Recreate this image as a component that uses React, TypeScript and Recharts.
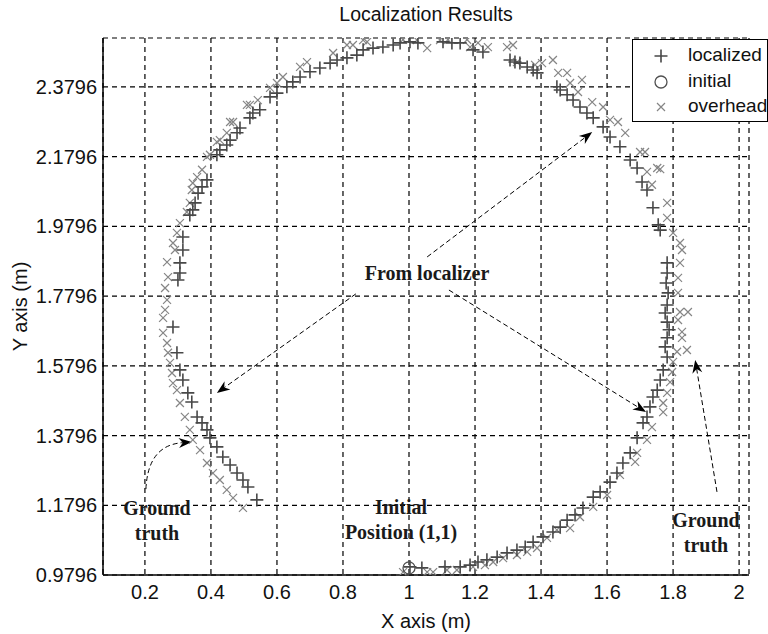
import {
  ScatterChart,
  Scatter,
  XAxis,
  YAxis,
  CartesianGrid,
  ReferenceLine,
  Legend,
} from "recharts";

const SANS = '"Liberation Sans", Arial, sans-serif';
const SERIF = '"Liberation Serif", "Times New Roman", serif';

const xTicks = [0.2, 0.4, 0.6, 0.8, 1, 1.2, 1.4, 1.6, 1.8, 2];
const yTicks = [0.9796, 1.1796, 1.3796, 1.5796, 1.7796, 1.9796, 2.1796, 2.3796];
const xDomain: [number, number] = [0.073, 2.03];
const yDomain: [number, number] = [0.9796, 2.52];

// localizer output, in the order the robot drove
const localized: [number, number][] = [
  [1.003, 1.003], [1.039, 1.0], [1.109, 1.003], [1.155, 1.003], [1.185, 1.008],
  [1.209, 1.017], [1.236, 1.023], [1.267, 1.031], [1.297, 1.043], [1.327, 1.051],
  [1.352, 1.06], [1.376, 1.074], [1.406, 1.089], [1.436, 1.103], [1.458, 1.117],
  [1.479, 1.137], [1.503, 1.152], [1.527, 1.172], [1.558, 1.203], [1.579, 1.218],
  [1.609, 1.246], [1.63, 1.272], [1.648, 1.301], [1.67, 1.33], [1.691, 1.373],
  [1.709, 1.416], [1.721, 1.433], [1.73, 1.462], [1.739, 1.49], [1.752, 1.51],
  [1.761, 1.539], [1.77, 1.568], [1.782, 1.605], [1.776, 1.634], [1.782, 1.66],
  [1.788, 1.683], [1.782, 1.705], [1.776, 1.731], [1.782, 1.754], [1.785, 1.789],
  [1.779, 1.817], [1.782, 1.846], [1.782, 1.875], [1.761, 1.969], [1.755, 1.984],
  [1.739, 2.033], [1.721, 2.084], [1.706, 2.107], [1.691, 2.147], [1.67, 2.17],
  [1.639, 2.208], [1.609, 2.236], [1.588, 2.265], [1.558, 2.291], [1.539, 2.305],
  [1.518, 2.322], [1.497, 2.342], [1.479, 2.357], [1.458, 2.371], [1.448, 2.38],
  [1.388, 2.42], [1.376, 2.428], [1.358, 2.437], [1.336, 2.448], [1.321, 2.451],
  [1.306, 2.457], [1.224, 2.48], [1.194, 2.486], [1.155, 2.506], [1.13, 2.506],
  [1.103, 2.509], [1.027, 2.506], [1.003, 2.509], [0.973, 2.506], [0.952, 2.5],
  [0.921, 2.494], [0.891, 2.491], [0.861, 2.486], [0.842, 2.471], [0.812, 2.463],
  [0.782, 2.457], [0.761, 2.448], [0.73, 2.434], [0.7, 2.423], [0.67, 2.408],
  [0.648, 2.394], [0.63, 2.38], [0.6, 2.362], [0.579, 2.351], [0.548, 2.314],
  [0.527, 2.305], [0.518, 2.291], [0.488, 2.262], [0.479, 2.248], [0.458, 2.227],
  [0.448, 2.213], [0.427, 2.199], [0.418, 2.185], [0.388, 2.113], [0.373, 2.093],
  [0.361, 2.075], [0.352, 2.047], [0.345, 2.027], [0.336, 2.012], [0.315, 1.949],
  [0.315, 1.912], [0.306, 1.875], [0.306, 1.846], [0.3, 1.826], [0.285, 1.691],
  [0.297, 1.617], [0.306, 1.568], [0.315, 1.539], [0.33, 1.502], [0.342, 1.476],
  [0.358, 1.433], [0.373, 1.416], [0.388, 1.396], [0.397, 1.373], [0.418, 1.347],
  [0.436, 1.318], [0.458, 1.295], [0.479, 1.272], [0.497, 1.252], [0.512, 1.232],
  [0.539, 1.195],
];

// overhead camera (ground truth)
const overhead: [number, number][] = [
  [0.982, 0.988], [1.055, 0.988], [1.073, 0.988], [1.115, 0.994], [1.145, 0.994],
  [1.194, 1.003], [1.23, 1.008], [1.255, 1.017], [1.285, 1.028], [1.327, 1.037],
  [1.358, 1.046], [1.388, 1.057], [1.418, 1.086], [1.448, 1.109], [1.488, 1.114],
  [1.518, 1.146], [1.558, 1.175], [1.6, 1.209], [1.639, 1.267], [1.685, 1.304],
  [1.691, 1.33], [1.721, 1.367], [1.736, 1.404], [1.77, 1.447], [1.77, 1.473],
  [1.782, 1.502], [1.791, 1.533], [1.797, 1.562], [1.8, 1.591], [1.812, 1.62],
  [1.842, 1.625], [1.827, 1.66], [1.827, 1.677], [1.815, 1.711], [1.821, 1.734],
  [1.845, 1.734], [1.815, 1.789], [1.815, 1.832], [1.821, 1.875], [1.827, 1.912],
  [1.821, 1.932], [1.8, 1.961], [1.782, 2.004], [1.782, 2.047], [1.736, 2.099],
  [1.761, 2.144], [1.752, 2.147], [1.721, 2.136], [1.715, 2.193], [1.7, 2.193],
  [1.655, 2.248], [1.633, 2.279], [1.609, 2.285], [1.588, 2.322], [1.555, 2.336],
  [1.512, 2.365], [1.524, 2.4], [1.488, 2.391], [1.479, 2.42], [1.452, 2.42],
  [1.436, 2.457], [1.403, 2.448], [1.382, 2.443], [1.327, 2.451], [1.315, 2.5],
  [1.297, 2.494], [1.239, 2.494], [1.209, 2.506], [1.185, 2.494], [1.176, 2.515],
  [1.118, 2.515], [1.094, 2.514], [1.055, 2.491], [1.024, 2.514], [0.982, 2.515],
  [0.873, 2.509], [0.861, 2.514], [0.83, 2.5], [0.812, 2.5], [0.77, 2.477],
  [0.691, 2.451], [0.67, 2.437], [0.618, 2.408], [0.6, 2.391], [0.579, 2.377],
  [0.542, 2.342], [0.518, 2.328], [0.509, 2.328], [0.467, 2.279], [0.458, 2.279],
  [0.448, 2.248], [0.427, 2.227], [0.418, 2.222], [0.397, 2.185], [0.388, 2.179],
  [0.373, 2.142], [0.358, 2.121], [0.345, 2.104], [0.342, 2.084], [0.336, 2.047],
  [0.327, 2.021], [0.306, 1.989], [0.297, 1.961], [0.285, 1.932], [0.291, 1.912],
  [0.267, 1.877], [0.27, 1.834], [0.261, 1.803], [0.267, 1.769], [0.261, 1.74],
  [0.255, 1.717], [0.255, 1.674], [0.267, 1.645], [0.27, 1.617], [0.276, 1.588],
  [0.282, 1.559], [0.285, 1.53], [0.297, 1.51], [0.306, 1.473], [0.321, 1.433],
  [0.336, 1.396], [0.345, 1.367], [0.367, 1.338], [0.388, 1.301], [0.406, 1.272],
  [0.427, 1.252], [0.448, 1.224], [0.467, 1.201], [0.497, 1.172],
];

const initial: [number, number][] = [[1.0, 1.0]];

const seriesOrder = ["localized", "initial", "overhead"];

// annotation arrows: [from, to], head at "to"
const arrows: { from: [number, number]; to: [number, number]; curved?: boolean }[] = [
  { from: [1.055, 1.892], to: [1.555, 2.25] },
  { from: [0.839, 1.786], to: [0.418, 1.502] },
  { from: [1.121, 1.797], to: [1.718, 1.447] },
  { from: [1.933, 1.218], to: [1.867, 1.596] },
  { from: [0.203, 1.226], to: [0.342, 1.361], curved: true },
];

const toPoints = (pts: [number, number][]) => pts.map(([x, y]) => ({ x, y }));

function PlusMark({ cx, cy }: any) {
  return (
    <path
      d={`M${cx - 6.5},${cy}h13M${cx},${cy - 6.5}v13`}
      stroke="#484848"
      strokeWidth={1.6}
      fill="none"
    />
  );
}

function CrossMark({ cx, cy }: any) {
  const s = 4;
  return (
    <path
      d={`M${cx - s},${cy - s}L${cx + s},${cy + s}M${cx - s},${cy + s}L${cx + s},${cy - s}`}
      stroke="#858585"
      strokeWidth={1.2}
      fill="none"
    />
  );
}

function CircleMark({ cx, cy }: any) {
  return <circle cx={cx} cy={cy} r={6} stroke="#505050" strokeWidth={1.3} fill="none" />;
}

function ArrowShape({ x1, y1, x2, y2, curved }: any) {
  if ([x1, y1, x2, y2].some((v) => typeof v !== "number")) return <g />;
  const cx = curved ? x1 + 2 : x1;
  const cy = curved ? y2 + 3 : y1;
  const dx = x2 - cx;
  const dy = y2 - cy;
  const len = Math.hypot(dx, dy) || 1;
  const ux = dx / len;
  const uy = dy / len;
  const L = 13;
  const W = 5;
  const bx = x2 - ux * L;
  const by = y2 - uy * L;
  const nx = x2 - ux * L * 0.7;
  const ny = y2 - uy * L * 0.7;
  const head = `${x2},${y2} ${bx - uy * W},${by + ux * W} ${nx},${ny} ${bx + uy * W},${by - ux * W}`;
  const d = curved
    ? `M${x1},${y1}Q${cx},${cy} ${nx},${ny}`
    : `M${x1},${y1}L${nx},${ny}`;
  return (
    <g>
      <path d={d} stroke="#000" strokeWidth={1} strokeDasharray="5 3" fill="none" />
      <polygon points={head} fill="#000" />
    </g>
  );
}

const legendSymbols: Record<string, (p: { cx: number; cy: number }) => any> = {
  localized: PlusMark,
  initial: CircleMark,
  overhead: CrossMark,
};

function LegendBox({ payload }: any) {
  const items = [...(payload || [])].sort(
    (a: any, b: any) => seriesOrder.indexOf(a.value) - seriesOrder.indexOf(b.value)
  );
  return (
    <div
      style={{
        width: 134,
        height: 81,
        border: "1px solid #000",
        background: "#fff",
        position: "relative",
        fontFamily: SANS,
        fontSize: 19,
        color: "#111",
      }}
    >
      {items.map((entry: any, i: number) => {
        const Sym = legendSymbols[entry.value];
        const top = 16 + i * 25.5;
        return (
          <div key={entry.value}>
            <svg
              width={24}
              height={24}
              style={{ position: "absolute", left: 16, top: top - 12 }}
            >
              {Sym ? <Sym cx={12} cy={12} /> : null}
            </svg>
            <span
              style={{
                position: "absolute",
                left: 55,
                top: top - 12,
                lineHeight: "22px",
                whiteSpace: "nowrap",
              }}
            >
              {entry.value}
            </span>
          </div>
        );
      })}
    </div>
  );
}

const noteStyle: React.CSSProperties = {
  position: "absolute",
  fontFamily: SERIF,
  fontWeight: "bold",
  fontSize: 20,
  lineHeight: "25px",
  textAlign: "center",
  color: "#1a1a1a",
  whiteSpace: "nowrap",
};

export default function App() {
  return (
    <div
      style={{
        position: "absolute",
        left: 0,
        top: 0,
        width: 768,
        height: 634,
        background: "#fff",
      }}
    >
      <div
        style={{
          position: "absolute",
          left: 103,
          top: 3,
          width: 646,
          textAlign: "center",
          fontFamily: SANS,
          fontSize: 19.5,
          color: "#111",
        }}
      >
        Localization Results
      </div>
      <ScatterChart
        width={768}
        height={634}
        margin={{ top: 38, right: 19, left: 0, bottom: 0 }}
      >
        <CartesianGrid stroke="#000" strokeDasharray="5 4" strokeWidth={1.2} />
        <XAxis
          type="number"
          dataKey="x"
          domain={xDomain}
          ticks={xTicks}
          allowDataOverflow
          height={59}
          tickLine={false}
          tickSize={0}
          tickMargin={10}
          axisLine={{ stroke: "#000", strokeWidth: 1.5 }}
          tick={{ fill: "#111", fontSize: 20, fontFamily: SANS }}
          label={{
            value: "X axis (m)",
            position: "insideBottom",
            offset: 6,
            fill: "#111",
            fontSize: 20,
            fontFamily: SANS,
          }}
        />
        <XAxis
          xAxisId="top"
          orientation="top"
          type="number"
          domain={xDomain}
          ticks={xTicks}
          allowDataOverflow
          height={0}
          mirror
          tickSize={6}
          tickFormatter={() => ""}
          tickLine={{ stroke: "#000" }}
          axisLine={{ stroke: "#000", strokeWidth: 1.5 }}
        />
        <YAxis
          type="number"
          dataKey="y"
          domain={yDomain}
          ticks={yTicks}
          allowDataOverflow
          width={103}
          tickLine={false}
          tickSize={0}
          tickMargin={6}
          tickFormatter={(v: number) => v.toFixed(4)}
          axisLine={{ stroke: "#000", strokeWidth: 1.5 }}
          tick={{ fill: "#111", fontSize: 20, fontFamily: SANS }}
          label={{
            value: "Y axis (m)",
            angle: -90,
            position: "insideLeft",
            offset: 20,
            fill: "#111",
            fontSize: 20,
            fontFamily: SANS,
            style: { textAnchor: "middle" },
          }}
        />
        <YAxis
          yAxisId="right"
          orientation="right"
          type="number"
          domain={yDomain}
          ticks={yTicks}
          allowDataOverflow
          width={0}
          mirror
          tickSize={6}
          tickFormatter={() => ""}
          tickLine={{ stroke: "#000" }}
          axisLine={{ stroke: "#000", strokeWidth: 1.5 }}
        />
        <Scatter
          name="overhead"
          data={toPoints(overhead)}
          shape={CrossMark}
          isAnimationActive={false}
        />
        <Scatter
          name="localized"
          data={toPoints(localized)}
          shape={PlusMark}
          isAnimationActive={false}
        />
        <Scatter
          name="initial"
          data={toPoints(initial)}
          shape={CircleMark}
          isAnimationActive={false}
        />
        {arrows.map((a, i) => (
          <ReferenceLine
            key={i}
            segment={[
              { x: a.from[0], y: a.from[1] },
              { x: a.to[0], y: a.to[1] },
            ]}
            ifOverflow="visible"
            shape={(p: any) => <ArrowShape {...p} curved={a.curved} />}
          />
        ))}
        <Legend
          layout="vertical"
          align="center"
          verticalAlign="middle"
          content={<LegendBox />}
          wrapperStyle={{ left: 632, top: 39, width: 136, height: 83 }}
        />
      </ScatterChart>
      <div style={{ ...noteStyle, left: 347, top: 261, width: 160 }}>From localizer</div>
      <div style={{ ...noteStyle, left: 97, top: 496, width: 120 }}>
        Ground
        <br />
        truth
      </div>
      <div style={{ ...noteStyle, left: 321, top: 495, width: 160 }}>
        Initial
        <br />
        Position (1,1)
      </div>
      <div style={{ ...noteStyle, left: 646, top: 508, width: 120 }}>
        Ground
        <br />
        truth
      </div>
    </div>
  );
}
